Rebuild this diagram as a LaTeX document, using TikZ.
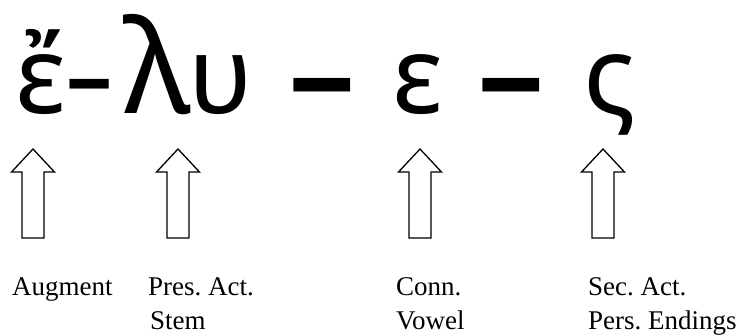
\documentclass[tikz,border=0pt]{standalone}
\usepackage{fontspec}
\setmainfont{Liberation Serif}
\newfontfamily\greekfont[Script=Greek]{Noto Sans}
\frenchspacing
\begin{document}
\begin{tikzpicture}[x=1pt,y=-1pt,
  glyph/.style={anchor=base,inner sep=0pt,font=\greekfont\fontsize{108}{108}\selectfont},
  label/.style={anchor=base west,inner sep=0pt,font=\fontsize{27}{34}\selectfont},
  blockarrow/.style={draw=black,line width=1.3pt,fill=white,line join=miter}]
\useasboundingbox (0,0) rectangle (743,335);
% Greek word
\node[glyph] (g1) at (41,113) {ἔ};
\node[glyph] (h1) at (90,117) {\scalebox{1.5}[1.15]{-}};
\node[glyph] (g2) at (157,113) {\scalebox{1.2}{λ}};
\node[glyph] (g3) at (221,113) {υ};
\node[glyph] (d1) at (322,131) {\scalebox{1.25}[1.6]{–}};
\node[glyph] (g4) at (418,113) {ε};
\node[glyph] (d2) at (511,131) {\scalebox{1.25}[1.6]{–}};
\node[glyph] (g5) at (610,113) {ς};
% arrows
\foreach \n/\x in {a1/33,a2/178,a3/420,a4/603}{
  \coordinate (\n) at (\x,149);
  \draw[blockarrow] (\n) -- ++(21.5,23) -- ++(-10.5,0) -- ++(0,66) -- ++(-22,0)
    -- ++(0,-66) -- ++(-10.5,0) -- cycle;
}
% labels
\node[label] (l1) at (12,295) {Augment};
\node[label] (l2) at (148,295) {Pres. Act.};
\node[label] (l2b) at (150,329) {Stem};
\node[label] (l3) at (396,295) {Conn.};
\node[label] (l3b) at (396,329) {Vowel};
\node[label] (l4) at (588,295) {Sec. Act.};
\node[label] (l4b) at (588,329) {Pers. Endings};
\end{tikzpicture}
\end{document}
